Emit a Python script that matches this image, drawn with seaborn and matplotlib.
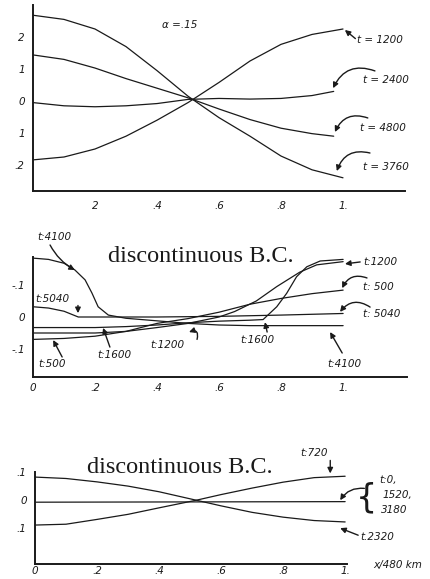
import numpy as np
import pandas as pd
import matplotlib
matplotlib.use("Agg")
import matplotlib.pyplot as plt
import seaborn as sns

# ---------------- data ----------------
# top panel (alpha = .15)
top_x = [0.0, 0.1, 0.2, 0.3, 0.4, 0.5, 0.6, 0.7, 0.8, 0.9, 1.0]
top_t1200 = [-0.184, -0.175, -0.15, -0.11, -0.06, -0.005, 0.058, 0.125, 0.177, 0.208, 0.225]
top_t3760 = [0.268, 0.255, 0.225, 0.17, 0.095, 0.015, -0.052, -0.11, -0.172, -0.215, -0.24]
top_x2 = [0.0, 0.1, 0.2, 0.3, 0.4, 0.5, 0.6, 0.7, 0.8, 0.9, 0.97]
top_t4800 = [0.144, 0.13, 0.103, 0.07, 0.04, 0.01, -0.025, -0.058, -0.085, -0.102, -0.11]
top_t2400 = [-0.005, -0.015, -0.018, -0.015, -0.008, 0.005, 0.008, 0.006, 0.008, 0.017, 0.03]

# middle panel (discontinuous boundary condition)
mid_x4100 = [0.0, 0.05, 0.1, 0.135, 0.168, 0.19, 0.21, 0.243, 0.3, 0.4, 0.5, 0.6, 0.7, 0.8, 0.9, 1.0]
mid_t4100 = [0.184, 0.18, 0.168, 0.147, 0.116, 0.075, 0.032, 0.006, -0.004, -0.012, -0.02,
             -0.025, -0.027, -0.027, -0.027, -0.027]
mid_x5040 = [0.0, 0.05, 0.1, 0.146, 0.2, 0.4, 0.6, 0.8, 1.0]
mid_t5040 = [0.032, 0.028, 0.018, 0.0, 0.0, 0.0, 0.002, 0.006, 0.011]
mid_x500 = [0.0, 0.1, 0.2, 0.3, 0.4, 0.5, 0.6, 0.7, 0.8, 0.9, 1.0]
mid_t500 = [-0.07, -0.067, -0.06, -0.045, -0.02, -0.005, 0.015, 0.04, 0.058, 0.073, 0.084]
mid_x1200 = [0.0, 0.2, 0.3, 0.4, 0.5, 0.6, 0.65, 0.72, 0.786, 0.86, 0.915, 1.0]
mid_t1200 = [-0.05, -0.05, -0.045, -0.033, -0.02, 0.0, 0.017, 0.05, 0.095, 0.14, 0.163, 0.173]
mid_x1600 = [0.0, 0.2, 0.3, 0.4, 0.5, 0.6, 0.7, 0.742, 0.786, 0.818, 0.85, 0.883, 0.926, 1.0]
mid_t1600 = [-0.033, -0.033, -0.03, -0.025, -0.018, -0.013, -0.01, -0.008, 0.032, 0.074,
             0.126, 0.157, 0.175, 0.18]

# bottom panel (discontinuous boundary condition)
bot_x = [0.0, 0.1, 0.2, 0.3, 0.4, 0.52, 0.6, 0.7, 0.8, 0.9, 1.0]
bot_t720 = [-0.088, -0.085, -0.068, -0.05, -0.027, 0.0, 0.02, 0.043, 0.064, 0.08, 0.085]
bot_t2320 = [0.082, 0.077, 0.065, 0.05, 0.03, 0.0, -0.02, -0.043, -0.06, -0.072, -0.077]
bot_xflat = [0.0, 1.0]
bot_tflat = [-0.007, -0.005]

xtick_vals = [0.0, 0.2, 0.4, 0.6, 0.8, 1.0]
xtick_labels = ["0", ".2", ".4", ".6", ".8", "1."]
top_yticks = [0.2, 0.1, 0.0, -0.1, -0.2]
top_ylabels = ["2", "1", "0", "1", ".2"]
mid_yticks = [0.1, 0.0, -0.1]
mid_ylabels = ["-.1", "0", "-.1"]
bot_yticks = [0.1, 0.0, -0.1]
bot_ylabels = [".1", "0", ".1"]

# ---------------- figure ----------------
sns.set_theme(style="white")
plt.rcParams["font.family"] = ["DejaVu Sans"]

W, H = 431, 579
fig = plt.figure(figsize=(W / 100, H / 100), dpi=100)
fig.patch.set_facecolor("white")


def make_axes(l, t, r, b):
    return fig.add_axes([l / W, (H - b) / H, (r - l) / W, (b - t) / H])


hand = dict(family="DejaVu Sans", style="italic", fontsize=7.5, color="k")
serif = dict(family="Liberation Serif", fontsize=17.5, color="k")
line_kw = dict(color="k", linewidth=0.9, legend=False)


def style_axes(ax, yticks, ylabels, xticks, xlabels, xpad=6):
    for s in ["top", "right"]:
        ax.spines[s].set_visible(False)
    for s in ["left", "bottom"]:
        ax.spines[s].set_color("k")
        ax.spines[s].set_linewidth(1.4)
    ax.set_yticks(yticks)
    ax.set_yticklabels(ylabels, **hand)
    ax.set_xticks(xticks)
    ax.set_xticklabels(xlabels, **hand)
    ax.tick_params(axis="y", length=0, pad=6)
    ax.tick_params(axis="x", length=0, pad=xpad)
    ax.set_xlabel("")
    ax.set_ylabel("")
    ax.grid(False)
    ax.set_facecolor("none")


def arrow(ax, tail, tip, rad=0.0):
    ax.annotate("", xy=tip, xytext=tail,
                arrowprops=dict(arrowstyle="-|>", color="k", lw=1.0,
                                mutation_scale=8,
                                connectionstyle=f"arc3,rad={rad}",
                                shrinkA=0, shrinkB=0),
                annotation_clip=False)


# ---- top panel ----
ax1 = make_axes(33, 5, 405, 191)
for xs, ys in [(top_x, top_t1200), (top_x, top_t3760), (top_x2, top_t4800), (top_x2, top_t2400)]:
    sns.lineplot(x=xs, y=ys, ax=ax1, **line_kw)
ax1.set_xlim(0, 1.2)
ax1.set_ylim(-0.28125, 0.3)
style_axes(ax1, top_yticks, top_ylabels, xtick_vals[1:], ["2", ".4", ".6", ".8", "1."], xpad=7)
ax1.text(0.474, 0.2375, "α =.15", ha="center", va="center", **hand)
ax1.text(1.045, 0.19, "t = 1200", ha="left", va="center", clip_on=False, **hand)
arrow(ax1, (1.04, 0.195), (1.006, 0.222))
ax1.text(1.065, 0.066, "t = 2400", ha="left", va="center", clip_on=False, **hand)
arrow(ax1, (1.103, 0.094), (0.968, 0.04), rad=0.45)
ax1.text(1.055, -0.084, "t = 4800", ha="left", va="center", clip_on=False, **hand)
arrow(ax1, (1.08, -0.053), (0.974, -0.097), rad=0.45)
ax1.text(1.065, -0.206, "t = 3760", ha="left", va="center", clip_on=False, **hand)
arrow(ax1, (1.087, -0.1625), (0.98, -0.219), rad=0.45)

# ---- middle panel ----
ax2 = make_axes(33, 257, 407, 377)
for xs, ys in [(mid_x4100, mid_t4100), (mid_x5040, mid_t5040), (mid_x500, mid_t500),
               (mid_x1200, mid_t1200), (mid_x1600, mid_t1600)]:
    sns.lineplot(x=xs, y=ys, ax=ax2, **line_kw)
ax2.set_xlim(0, 1.206)
ax2.set_ylim(-0.1875, 0.1875)
style_axes(ax2, mid_yticks, mid_ylabels, xtick_vals, xtick_labels, xpad=4)
ax2.text(0.542, 0.172, "discontinuous B.C.", ha="center", va="baseline", **serif)
ax2.text(0.013, 0.25, "t:4100", ha="left", va="center", clip_on=False, **hand)
arrow(ax2, (0.055, 0.225), (0.135, 0.147), rad=0.15)
ax2.text(0.006, 0.056, "t:5040", ha="left", va="center", **hand)
arrow(ax2, (0.145, 0.036), (0.145, 0.012))
ax2.text(0.016, -0.147, "t:500", ha="left", va="center", **hand)
arrow(ax2, (0.094, -0.125), (0.065, -0.072))
ax2.text(0.206, -0.119, "t:1600", ha="left", va="center", **hand)
arrow(ax2, (0.248, -0.094), (0.226, -0.034))
ax2.text(0.377, -0.0875, "t:1200", ha="left", va="center", **hand)
arrow(ax2, (0.529, -0.07), (0.503, -0.047), rad=0.9)
ax2.text(0.668, -0.072, "t:1600", ha="left", va="center", **hand)
arrow(ax2, (0.755, -0.047), (0.748, -0.016))
ax2.text(0.948, -0.147, "t:4100", ha="left", va="center", **hand)
arrow(ax2, (0.997, -0.1125), (0.958, -0.047))
ax2.text(1.065, 0.172, "t:1200", ha="left", va="center", **hand)
arrow(ax2, (1.055, 0.172), (1.006, 0.166))
ax2.text(1.065, 0.094, "t: 500", ha="left", va="center", **hand)
arrow(ax2, (1.077, 0.122), (0.997, 0.09), rad=0.45)
ax2.text(1.065, 0.009, "t: 5040", ha="left", va="center", clip_on=False, **hand)
arrow(ax2, (1.087, 0.031), (0.99, 0.016), rad=0.45)

# ---- bottom panel ----
ax3 = make_axes(35, 472, 347, 564)
for xs, ys in [(bot_x, bot_t720), (bot_x, bot_t2320), (bot_xflat, bot_tflat)]:
    sns.lineplot(x=xs, y=ys, ax=ax3, **line_kw)
ax3.set_xlim(0, 1.006)
ax3.set_ylim(-0.226, 0.099)
style_axes(ax3, bot_yticks, bot_ylabels, xtick_vals, xtick_labels, xpad=1.5)
ax3.text(0.468, 0.095, "discontinuous B.C.", ha="center", va="baseline", clip_on=False, **serif)
ax3.text(0.855, 0.166, "t:720", ha="left", va="center", clip_on=False, **hand)
arrow(ax3, (0.952, 0.141), (0.952, 0.095))
ax3.text(1.068, 0.007, "{", ha="center", va="center", clip_on=False,
         family="DejaVu Sans", fontsize=24, color="k")
ax3.text(1.11, 0.071, "t:0,", ha="left", va="center", clip_on=False, **hand)
ax3.text(1.122, 0.018, "1520,", ha="left", va="center", clip_on=False, **hand)
ax3.text(1.116, -0.035, "3180", ha="left", va="center", clip_on=False, **hand)
arrow(ax3, (1.062, 0.042), (0.984, 0.0), rad=0.3)
ax3.text(1.048, -0.131, "t.2320", ha="left", va="center", clip_on=False, **hand)
arrow(ax3, (1.042, -0.124), (0.984, -0.099))
ax3.text(1.09, -0.23, "x/480 km", ha="left", va="center", clip_on=False, **hand)

fig.savefig("out.png", dpi=100, facecolor="white")
